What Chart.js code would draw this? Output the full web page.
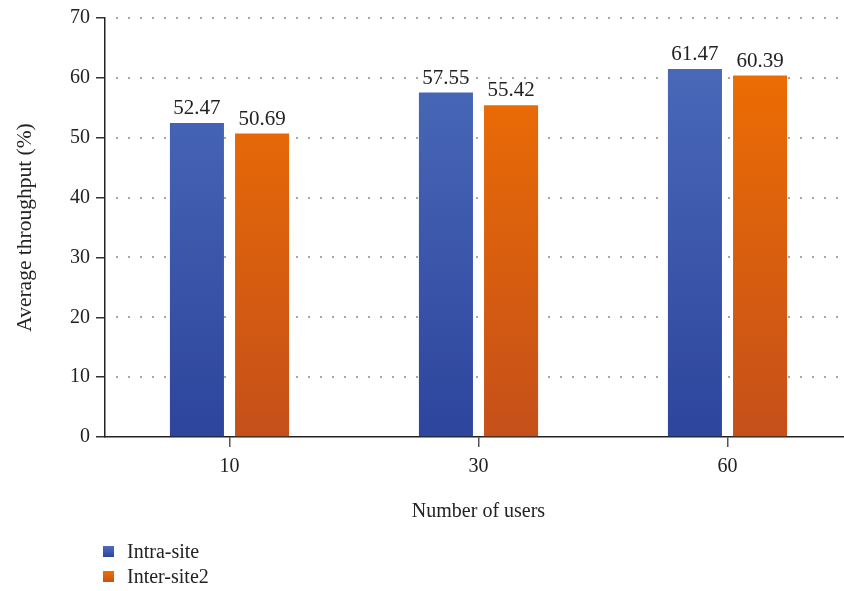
<!DOCTYPE html>
<html>
<head>
<meta charset="utf-8">
<script src="https://cdn.jsdelivr.net/npm/chart.js@4/dist/chart.umd.min.js"></script>
<style>
  html, body { margin: 0; padding: 0; background: #fff; overflow: hidden; }
  #wrap { position: relative; width: 852px; height: 591px; }
  #legend { position: absolute; left: 103px; top: 539px; font: 20px "Liberation Serif", serif; color: #222; }
  #legend div { height: 25px; line-height: 25px; display: flex; align-items: center; }
  #legend span.box { width: 11px; height: 11px; margin-right: 13px; display: inline-block; }
</style>
</head>
<body>
<div id="wrap">
  <canvas id="chart" width="852" height="591"></canvas>
  <div id="legend"></div>
</div>
<script>
// values
const categories = ['10', '30', '60'];
const intraSite = [52.47, 57.55, 61.47];
const interSite2 = [50.69, 55.42, 60.39];
const seriesLabels = ['Intra-site', 'Inter-site2'];
const yTicks = [0, 10, 20, 30, 40, 50, 60, 70];

const FONT = '"Liberation Serif", "Times New Roman", serif';

function vGradient(ctx, top, bottom) {
  const area = ctx.chart.chartArea;
  if (!area) return top;
  const g = ctx.chart.ctx.createLinearGradient(0, area.top, 0, area.bottom);
  g.addColorStop(0, top);
  g.addColorStop(1, bottom);
  return g;
}

// value labels above each bar
const valueLabels = {
  id: 'valueLabels',
  afterDatasetsDraw(chart) {
    const c = chart.ctx;
    c.save();
    c.font = '21px ' + FONT;
    c.fillStyle = '#222';
    c.textAlign = 'center';
    c.textBaseline = 'alphabetic';
    chart.data.datasets.forEach((ds, i) => {
      chart.getDatasetMeta(i).data.forEach((bar, j) => {
        c.fillText(ds.data[j].toFixed(2), bar.x, bar.y - 9);
      });
    });
    c.restore();
  }
};

// dotted horizontal grid
const dottedGrid = {
  id: 'dottedGrid',
  beforeDatasetsDraw(chart) {
    const c = chart.ctx;
    const y = chart.scales.y;
    const area = chart.chartArea;
    c.save();
    c.fillStyle = '#a8a8a8';
    yTicks.slice(1).forEach(v => {
      const py = Math.round(y.getPixelForValue(v));
      for (let x = area.left + 11; x < area.right; x += 12) {
        c.fillRect(x, py - 1, 2, 2);
      }
    });
    c.restore();
  }
};

new Chart(document.getElementById('chart'), {
  type: 'bar',
  data: {
    labels: categories,
    datasets: [
      {
        label: seriesLabels[0],
        data: intraSite,
        backgroundColor: ctx => vGradient(ctx, '#4d6dbb', '#2d459d'),
      },
      {
        label: seriesLabels[1],
        data: interSite2,
        backgroundColor: ctx => vGradient(ctx, '#f27100', '#c5501a'),
      },
    ],
  },
  options: {
    responsive: false,
    animation: false,
    categoryPercentage: 0.523,
    barPercentage: 0.83,
    layout: { padding: { top: 17, right: 0, bottom: 63, left: 0 } },
    plugins: {
      legend: { display: false },
      tooltip: { enabled: false },
    },
    scales: {
      x: {
        afterFit: s => { s.height = 91; },
        border: { color: '#222', width: 1.5 },
        grid: { offset: false, drawOnChartArea: false, tickLength: 10, color: '#555', lineWidth: 1.5 },
        ticks: { color: '#222', font: { family: FONT, size: 20 }, padding: 8 },
        title: { display: true, text: 'Number of users', color: '#222', font: { family: FONT, size: 20 }, padding: { top: 24 } },
      },
      y: {
        min: 0,
        max: 70,
        afterFit: s => { s.width = 105; },
        afterBuildTicks: s => { s.ticks = yTicks.map(v => ({ value: v })); },
        border: { color: '#222', width: 1.5 },
        grid: { drawOnChartArea: false, tickLength: 9, color: '#333', lineWidth: 1.5 },
        ticks: { color: '#222', font: { family: FONT, size: 20 }, padding: 6 },
        title: { display: true, text: 'Average throughput (%)', color: '#222', font: { family: FONT, size: 21.5 }, padding: { top: 12, bottom: 4 } },
      },
    },
  },
  plugins: [dottedGrid, valueLabels],
});

// legend stacked at lower left, as in the figure
const legendEl = document.getElementById('legend');
[['#4d6dbb', '#2d459d'], ['#f27100', '#c5501a']].forEach((col, i) => {
  const row = document.createElement('div');
  row.innerHTML = '<span class="box" style="background:linear-gradient(' + col[0] + ',' + col[1] + ')"></span>' + seriesLabels[i];
  legendEl.appendChild(row);
});
</script>
</body>
</html>
